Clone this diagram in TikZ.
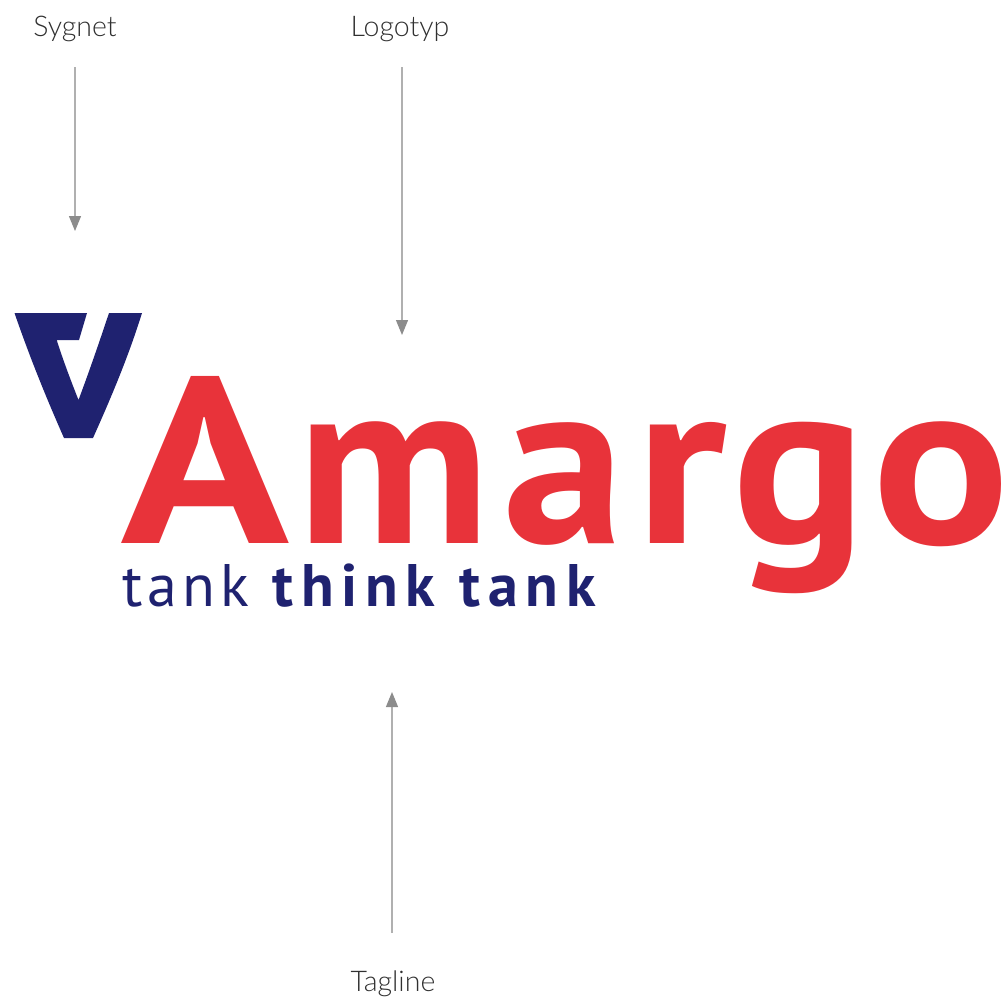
\documentclass[tikz,border=0pt]{standalone}
\usepackage{fontspec}
\usetikzlibrary{arrows.meta}
\newfontfamily\capfont{Lato Light}
\newfontfamily\logofont{PT Sans}
\definecolor{navy}{HTML}{1F2270}
\definecolor{brandred}{HTML}{E8333A}
\definecolor{shaft}{HTML}{B0B0B0}
\definecolor{headgray}{HTML}{8C8C8C}
\definecolor{capink}{HTML}{303030}
\tikzset{
  caption/.style={font=\capfont\fontsize{28.5}{32}\selectfont,text=capink,inner sep=0pt,anchor=base},
  conn/.style={draw=shaft,line width=1.2pt,-{Triangle[length=15pt,width=12pt,color=headgray]}},
  letter/.style={font=\logofont\bfseries\fontsize{237}{237}\selectfont,text=brandred,inner sep=0pt,anchor=base west,transform shape},
  tagline/.style={text=navy,inner sep=0pt,anchor=base west}
}
\begin{document}
\begin{tikzpicture}[x=1pt,y=-1pt]
\useasboundingbox (0,0) rectangle (1002,997);
\node[caption] (sygnetlabel) at (75,36) {Sygnet};
\node[caption] (logotyplabel) at (400,36) {Logotyp};
\node[caption] (taglinelabel) at (393,991) {Tagline};
\coordinate (sygnettip) at (75,231);
\coordinate (logotyptip) at (402,335);
\coordinate (taglinetip) at (392,692);
\draw[conn,shorten <=26pt] (sygnetlabel.south -| sygnettip) -- (sygnettip);
\draw[conn,shorten <=26pt] (logotyplabel.south -| logotyptip) -- (logotyptip);
\draw[conn,shorten <=37pt] (taglinelabel.north -| taglinetip) -- (taglinetip);
\fill[navy] (14.5,313) -- (87,313) -- (79,340) -- (56.7,340) .. controls (63,360) and (71,381) .. (78.5,400) .. controls (89,372) and (99,343) .. (109,313) -- (142,313) .. controls (128,358) and (110,400) .. (93,438) -- (64,438) .. controls (45,395) and (29,355) .. (14.5,313) -- cycle;
\node[letter,xscale=1.17] (la) at (121,543) {A};
\node[letter,xscale=1.01] (lm) at (297,543) {m};
\node[letter,xscale=1.03] (la2) at (503,543) {a};
\node[letter,xscale=1.1] (lr) at (635.7,543) {r};
\node[letter,xscale=1.05] (lg) at (732.6,543) {g};
\node[letter,xscale=1.08] (lo) at (872.4,543) {o};
\node[tagline] (tag) at (122,606) {\logofont\fontsize{60}{60}\selectfont\addfontfeature{LetterSpace=8.5}tank\hspace{2pt} {\bfseries\addfontfeature{LetterSpace=13}think\hspace{1pt} tank}};
\end{tikzpicture}
\end{document}
